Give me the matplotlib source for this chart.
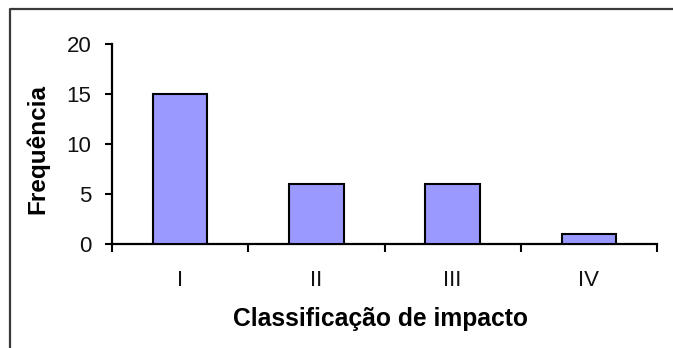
import matplotlib
matplotlib.use("Agg")
import matplotlib.pyplot as plt
from matplotlib.lines import Line2D

categories = ["I", "II", "III", "IV"]
frequencies = [15, 6, 6, 1]
y_ticks = [0, 5, 10, 15, 20]

plt.rcParams['font.family'] = ['Liberation Sans', 'DejaVu Sans']

W, H = 673, 348
fig = plt.figure(figsize=(W / 100, H / 100), dpi=100)
ax = fig.add_axes([112 / W, 104 / H, (657 - 112) / W, 200 / H])

x = list(range(len(categories)))
ax.bar(x, frequencies, width=0.4, color="#9999FF", edgecolor="black", linewidth=1.5, zorder=3)

ax.set_xlim(-0.5, len(categories) - 0.5)
ax.set_ylim(0, 20)
ax.set_yticks(y_ticks)
ax.set_yticklabels([str(v) for v in y_ticks], fontsize=16, color="#111111")

ax.set_xticks([i - 0.5 for i in range(len(categories) + 1)])
ax.set_xticklabels([])
ax.set_xticks(x, minor=True)
ax.set_xticklabels(categories, minor=True, fontsize=16, color="#111111")
ax.tick_params(axis='x', which='major', direction='out', length=6, width=1.5)
ax.tick_params(axis='x', which='minor', length=0, pad=19)
ax.tick_params(axis='y', direction='out', length=5, width=1.5, pad=10)

for s in ['top', 'right']:
    ax.spines[s].set_visible(False)
for s in ['left', 'bottom']:
    ax.spines[s].set_linewidth(1.6)

ax.set_xlabel("Classificação de impacto", fontsize=17.7, fontweight='bold')
ax.xaxis.set_label_coords(0.493, -0.315)
ax.set_ylabel("Frequência", fontsize=17.5, fontweight='bold')
ax.yaxis.set_label_coords(-0.114, 0.475)

# outer frame (partially visible)
fig.add_artist(Line2D([10 / W, 10 / W, 1.0], [0.0, 1 - 9 / H, 1 - 9 / H],
                      transform=fig.transFigure, color="#3a3a3a", linewidth=1.6))

fig.savefig("out.png", dpi=100)
